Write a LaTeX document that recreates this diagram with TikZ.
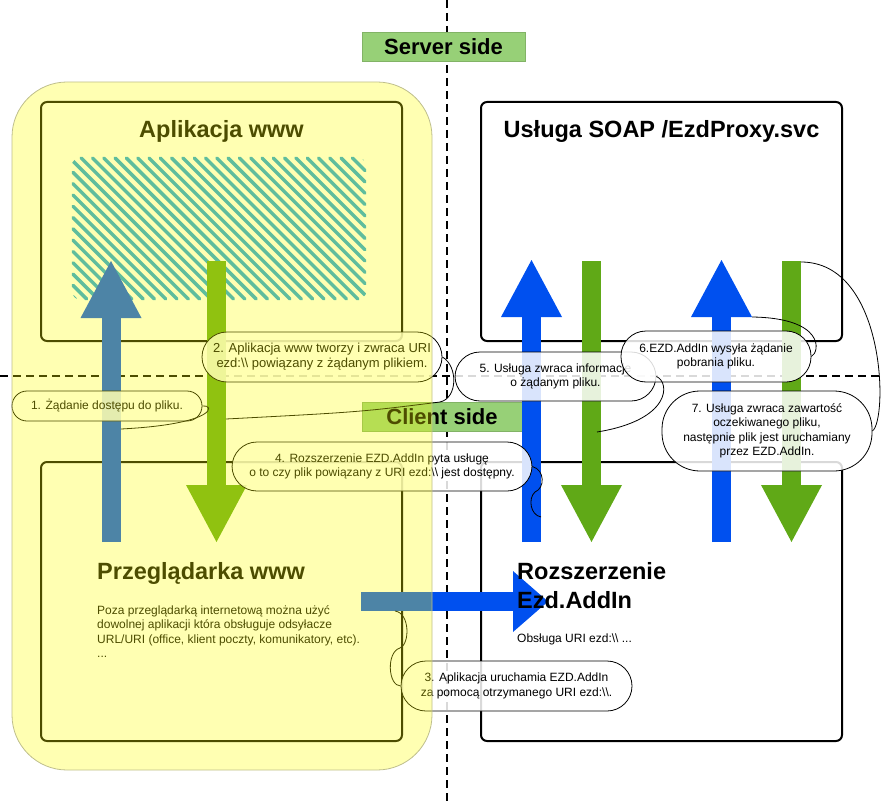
\documentclass[tikz,border=0pt]{standalone}
\usepackage{fontspec}
\setmainfont{Liberation Sans}
\usepackage{tikz}
\usetikzlibrary{arrows.meta}

\definecolor{upblue}{HTML}{0050EF}
\definecolor{downgreen}{HTML}{60A917}
\definecolor{hatchblue}{HTML}{1BA1E2}
\definecolor{sidegreen}{HTML}{97D077}
\definecolor{sideline}{HTML}{82B366}
\definecolor{webyellow}{HTML}{FFFF00}
\definecolor{webline}{RGB}{190,190,140}

\newcommand{\boxfont}{\fontsize{23.5}{29}\selectfont\bfseries}
\newcommand{\notefont}{\fontsize{12}{14.5}\selectfont}

\begin{document}
\begin{tikzpicture}[x=1pt, y=-1pt]
\useasboundingbox (0,0) rectangle (882,802);

% server / client split
\begin{scope}[line width=1.5pt, dash pattern=on 8pt off 5pt]
  \draw (447,0) -- (447,802);
  \draw (0,376) -- (882,376);
\end{scope}

\begin{scope}[every node/.style={draw=sideline, fill=sidegreen, minimum height=29pt, inner sep=0pt, font=\fontsize{22}{26}\selectfont\bfseries}]
  \node[minimum width=163pt] (server) at (443.5,46.5) {Server side};
  \node[minimum width=160pt] (client) at (442,416.5) {Client side};
\end{scope}

\begin{scope}[every node/.style={draw=black, line width=2pt, rounded corners=6pt, minimum width=361pt, inner sep=0pt}]
  \node[minimum height=239pt] (app) at (221.5,221.5) {};
  \node[minimum height=239pt] (soap) at (661.5,221.5) {};
  \node[minimum height=279pt] (brw) at (221.5,601.5) {};
  \node[minimum height=279pt] (ext) at (661.5,601.5) {};
\end{scope}

% hatched area of the web application
\begin{scope}
  \clip[rounded corners=16pt] (70,155) rectangle (368,302);
  \foreach \x in {-80,-68.7,...,372} {
    \pgfmathsetmacro{\xs}{max(73,\x+3)}
    \pgfmathsetmacro{\xe}{min(365,\x+144)}
    \ifdim\xs pt<\xe pt
      \draw[hatchblue, line width=3.4pt, line cap=round] (\xs,\xs-\x+155) -- (\xe,\xe-\x+155);
    \fi
  }
\end{scope}

% arrow ends
\coordinate (u1a) at (111,542);   \coordinate (u1b) at (111,261);
\coordinate (d2a) at (216.5,261); \coordinate (d2b) at (216.5,542);
\coordinate (r3a) at (361,601.5); \coordinate (r3b) at (548,601.5);
\coordinate (u5a) at (531.5,542); \coordinate (u5b) at (531.5,260);
\coordinate (d5a) at (591.5,261); \coordinate (d5b) at (591.5,542);
\coordinate (u6a) at (721.5,542); \coordinate (u6b) at (721.5,260);
\coordinate (d7a) at (791.5,261); \coordinate (d7b) at (791.5,542);

\begin{scope}[every edge/.style={draw, line width=19pt}]
  \path[-{Triangle[length=57pt,width=61pt,line width=0pt]}]
    (u1a) edge[draw=upblue] (u1b)
    (d2a) edge[draw=downgreen] (d2b)
    (u5a) edge[draw=upblue] (u5b)
    (d5a) edge[draw=downgreen] (d5b)
    (u6a) edge[draw=upblue] (u6b)
    (d7a) edge[draw=downgreen] (d7b);
  \path[-{Triangle[length=35pt,width=61pt,line width=0pt]}] (r3a) edge[draw=upblue] (r3b);
\end{scope}

\begin{scope}[every node/.style={inner sep=0pt, anchor=base west}]
  \node[anchor=base, font=\boxfont] (apptxt) at (221.5,138) {Aplikacja www};
  \node[anchor=base, font=\boxfont] (soaptxt) at (661.5,138) {Usługa SOAP /EzdProxy.svc};
  \node[font=\boxfont] (brwtxt) at (97,579) {Przeglądarka www};
  \node[anchor=north west, align=left, font=\notefont] (brwnote) at (97,605)
    {Poza przeglądarką internetową można użyć\\dowolnej aplikacji która obsługuje odsyłacze\\URL/URI (office, klient poczty, komunikatory, etc).\\...};
  \node[anchor=north west, align=left, font=\boxfont] (exttxt) at (517,562) {Rozszerzenie\\Ezd.AddIn};
  \node[font=\notefont] (extnote) at (517,642) {Obsługa URI ezd:\textbackslash\textbackslash\ ...};
\end{scope}

% tail ends on the arrows
\coordinate (e1) at (121,429);
\coordinate (e2) at (226,419);
\coordinate (e3) at (395,611);
\coordinate (e4) at (541,517);
\coordinate (e5) at (597,432);
\coordinate (e6) at (752,317);
\coordinate (e7) at (801,262);

\begin{scope}[every node/.style={draw=black, line width=0.8pt, fill=white, fill opacity=0.85, text opacity=1,
              rounded corners=25pt, inner sep=0pt, align=center, font=\notefont}]
  \node[minimum width=190pt, minimum height=30pt, rounded corners=15pt] (c1) at (107,406) {1. Żądanie dostępu do pliku.};
  \node[minimum width=240pt, minimum height=50pt, font=\fontsize{13}{15}\selectfont] (c2) at (322,357) {2. Aplikacja www tworzy i zwraca URI\\ezd:\textbackslash\textbackslash\ powiązany z żądanym plikiem.};
  \node[minimum width=231pt, minimum height=50pt] (c3) at (516.5,686) {3. Aplikacja uruchamia EZD.AddIn\\za pomocą otrzymanego URI ezd:\textbackslash\textbackslash.};
  \node[minimum width=300pt, minimum height=49pt] (c4) at (382,466.5) {4. Rozszerzenie EZD.AddIn pyta usługę\\o to czy plik powiązany z URI ezd:\textbackslash\textbackslash\ jest dostępny.};
  \node[minimum width=201pt, minimum height=49pt] (c5) at (555.5,376.5) {5. Usługa zwraca informacje\\o żądanym pliku.};
  \node[minimum width=190pt, minimum height=51pt] (c6) at (716,356.5) {6.EZD.AddIn wysyła żądanie\\pobrania pliku.};
  \node[minimum width=210pt, minimum height=80pt, rounded corners=38pt] (c7) at (767,431) {7. Usługa zwraca zawartość\\oczekiwanego pliku,\\następnie plik jest uruchamiany\\przez EZD.AddIn.};
\end{scope}

\begin{scope}[line width=0.8pt]
  \draw (c1.east) .. controls (215,404) and (218,424) .. (e1);
  \draw (c2.east) .. controls (458,366) and (458,398) .. (440,402) .. controls (360,412) .. (e2);
  \draw (c3.west) .. controls (388,686) and (386,652) .. (400,648) .. controls (410,644) and (410,613) .. (e3);
  \draw (c4.east) .. controls (545,470) and (545,488) .. (535,492) .. controls (528,498) and (530,515) .. (e4);
  \draw (c5.east) .. controls (670,382) and (672,420) .. (e5);
  \draw (c6.east) .. controls (820,352) and (825,318) .. (e6);
  \draw (c7.east) .. controls (888,420) and (886,262) .. (e7);
\end{scope}

% client area on top
\node[draw=webline, line width=0.8pt, fill=webyellow, fill opacity=0.3, rounded corners=55pt,
      minimum width=420pt, minimum height=688pt] (web) at (222,426) {};

\end{tikzpicture}
\end{document}
